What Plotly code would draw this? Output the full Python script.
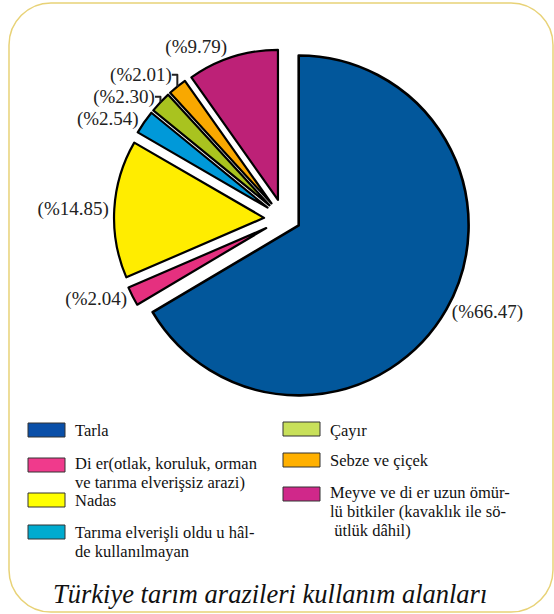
import plotly.graph_objects as go

W, H = 554, 614

# ---- data ----
labels = [
    "Tarla",
    "Di er(otlak, koruluk, orman<br>ve tarıma elverişsiz arazi)",
    "Nadas",
    "Tarıma elverişli oldu u hâl-<br>de kullanılmayan",
    "Çayır",
    "Sebze ve çiçek",
    "Meyve ve di er uzun ömür-<br>lü bitkiler (kavaklık ile sö-<br> ütlük dâhil)",
]
values = [66.47, 2.04, 14.85, 2.54, 2.30, 2.01, 9.79]
value_text = ["(%" + f"{v:.2f}" + ")" for v in values]
title_text = "Türkiye tarım arazileri kullanım alanları"

# ---- styles ----
pie_colors = ["#02579B", "#E5307F", "#FFED00", "#0099D9", "#A9C31F", "#F9A800", "#BD2177"]
legend_colors = ["#0A4FA8", "#F03A8C", "#FFFF00", "#00ABCF", "#C8E05A", "#FFB000", "#D0288A"]
CLEAR = "rgba(0,0,0,0)"
LABEL_FONT = dict(family="Liberation Serif", size=19, color="#222222")


def fx(x):
    return x / W


def fy(y):
    return 1 - y / H


def dom(cx, cy, half):
    return dict(x=[fx(cx - half), fx(cx + half)], y=[fy(cy + half), fy(cy - half)])


big = [i == 0 for i in range(len(values))]

# main slice (Tarla), drawn a little larger
trace_a = go.Pie(
    labels=labels, values=values,
    text=[t if b else "" for t, b in zip(value_text, big)],
    textinfo="text", textposition="outside", textfont=LABEL_FONT,
    marker=dict(colors=[c if b else CLEAR for c, b in zip(pie_colors, big)],
                line=dict(color="black", width=[2.6 if b else 0 for b in big])),
    pull=[0.13 if b else 0 for b in big],
    sort=False, direction="clockwise", rotation=0,
    hoverinfo="none", automargin=False, showlegend=False,
    domain=dom(279.5, 214.5, 192),
)

# the remaining slices
trace_b = go.Pie(
    labels=labels, values=values,
    text=["" if b else t for t, b in zip(value_text, big)],
    textinfo="text", textposition="outside", textfont=LABEL_FONT,
    marker=dict(colors=[CLEAR if b else c for c, b in zip(pie_colors, big)],
                line=dict(color="black", width=[0 if b else 2.2 for b in big])),
    pull=[0 if b else 0.133 for b in big],
    sort=False, direction="clockwise", rotation=0,
    hoverinfo="none", automargin=False, showlegend=False,
    domain=dom(284, 219, 170),
)

fig = go.Figure([trace_a, trace_b])

shapes = []
annotations = []

# rounded frame
x0, x1, y0, y1, r = 9, 553, 3, 612, 42
k = 0.45
path = (
    f"M {fx(x0 + r)} {fy(y0)} L {fx(x1 - r)} {fy(y0)} "
    f"C {fx(x1 - r * k)} {fy(y0)} {fx(x1)} {fy(y0 + r * k)} {fx(x1)} {fy(y0 + r)} "
    f"L {fx(x1)} {fy(y1 - r)} "
    f"C {fx(x1)} {fy(y1 - r * k)} {fx(x1 - r * k)} {fy(y1)} {fx(x1 - r)} {fy(y1)} "
    f"L {fx(x0 + r)} {fy(y1)} "
    f"C {fx(x0 + r * k)} {fy(y1)} {fx(x0)} {fy(y1 - r * k)} {fx(x0)} {fy(y1 - r)} "
    f"L {fx(x0)} {fy(y0 + r)} "
    f"C {fx(x0)} {fy(y0 + r * k)} {fx(x0 + r * k)} {fy(y0)} {fx(x0 + r)} {fy(y0)} Z"
)
shapes.append(dict(type="path", path=path, xref="paper", yref="paper",
                   line=dict(color="#E8D277", width=1.5), layer="below"))

# manual legend: (swatch x, swatch top y, first text line centre y)
legend_pos = [
    (28, 423, 430),
    (28, 458, 463),
    (28, 493, 500),
    (28, 525, 532),
    (283, 422, 430),
    (283, 453, 460),
    (283, 487, 492),
]
LINE_GAP = 19
for lab, col, (sx, sy, ty) in zip(labels, legend_colors, legend_pos):
    shapes.append(dict(type="rect", xref="paper", yref="paper",
                       x0=fx(sx), x1=fx(sx + 37), y0=fy(sy + 14), y1=fy(sy),
                       fillcolor=col, line=dict(color="#333333", width=1)))
    for i, line in enumerate(lab.split("<br>")):
        annotations.append(dict(text=line, xref="paper", yref="paper",
                                x=fx(sx + 46), y=fy(ty + i * LINE_GAP),
                                xanchor="left", yanchor="middle",
                                align="left", showarrow=False, borderpad=0,
                                font=dict(family="Liberation Serif", size=16.5, color="#111111")))

annotations.append(dict(text=f"<i>{title_text}</i>", xref="paper", yref="paper",
                        x=fx(270), y=fy(594), xanchor="center", yanchor="middle",
                        showarrow=False,
                        font=dict(family="Liberation Serif", size=26.5, color="#111111")))

fig.update_layout(
    width=W, height=H,
    margin=dict(l=0, r=0, t=0, b=0),
    paper_bgcolor="white",
    plot_bgcolor="white",
    shapes=shapes,
    annotations=annotations,
)

fig.write_html("out.html", config={"displayModeBar": False},
               post_script="document.body.style.margin='0';")
